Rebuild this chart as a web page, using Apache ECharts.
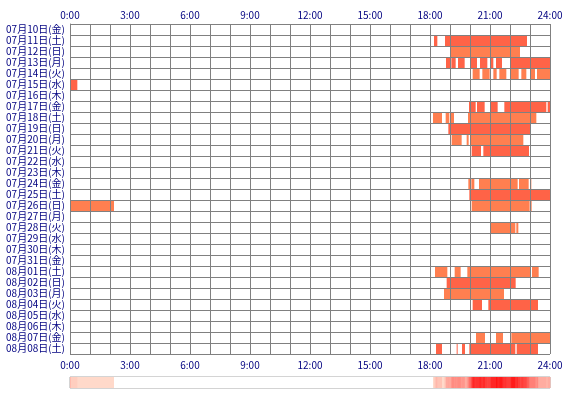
<!DOCTYPE html>
<html><head><meta charset="utf-8">
<script src="https://cdn.jsdelivr.net/npm/echarts@6/dist/echarts.min.js"></script>
<style>html,body{margin:0;padding:0;background:#fff}#c{width:570px;height:400px}</style>
</head><body><div id="c"></div>
<script>
const days = ['07月10日(金)','07月11日(土)','07月12日(日)','07月13日(月)','07月14日(火)','07月15日(水)','07月16日(木)','07月17日(金)','07月18日(土)','07月19日(日)','07月20日(月)','07月21日(火)','07月22日(水)','07月23日(木)','07月24日(金)','07月25日(土)','07月26日(日)','07月27日(月)','07月28日(火)','07月29日(水)','07月30日(木)','07月31日(金)','08月01日(土)','08月02日(日)','08月03日(月)','08月04日(火)','08月05日(水)','08月06日(木)','08月07日(金)','08月08日(土)'];
const hourLabels = ['0:00','3:00','6:00','9:00','12:00','15:00','18:00','21:00','24:00'];
// [day index, start, end]
const segments = [
  [1,'18:12','18:22'],[1,'18:45','22:51'],
  [2,'19:00','22:30'],
  [3,'18:48','19:00'],[3,'19:04','19:17'],[3,'19:24','19:44'],[3,'20:02','20:21'],[3,'20:30','20:52'],[3,'21:02','21:10'],[3,'21:18','21:36'],[3,'22:02','24:00'],
  [4,'20:08','20:29'],[4,'20:37','20:59'],[4,'21:10','21:20'],[4,'21:28','21:49'],[4,'22:02','22:26'],[4,'22:34','22:49'],[4,'23:00','23:15'],[4,'23:21','24:00'],
  [5,'0:00','0:22'],
  [7,'19:57','20:17'],[7,'20:21','20:44'],[7,'21:03','21:23'],[7,'21:43','23:49'],[7,'23:53','24:00'],
  [8,'0:00','0:02'],[8,'18:09','18:36'],[8,'18:47','18:58'],[8,'19:02','19:12'],[8,'19:54','23:19'],
  [9,'18:55','23:00'],
  [10,'19:05','19:35'],[10,'19:50','19:56'],[10,'20:02','22:40'],
  [11,'20:05','20:33'],[11,'20:40','22:57'],
  [14,'19:55','20:01'],[14,'20:04','20:13'],[14,'20:27','22:23'],[14,'22:27','22:56'],[14,'23:00','23:04'],
  [15,'19:58','24:00'],
  [16,'0:00','2:12'],[16,'20:05','22:59'],[16,'23:03','23:05'],
  [18,'21:00','22:16'],[18,'22:19','22:25'],
  [22,'18:15','18:52'],[22,'19:14','19:32'],[22,'19:52','23:00'],[22,'23:06','23:26'],
  [23,'18:50','22:17'],
  [24,'18:42','21:42'],
  [25,'20:08','20:36'],[25,'20:55','23:24'],
  [28,'20:18','20:45'],[28,'21:18','21:39'],[28,'22:04','24:00'],
  [29,'0:00','0:03'],[29,'18:18','18:36'],[29,'19:20','19:23'],[29,'19:36','19:45'],[29,'19:58','22:16'],[29,'22:20','23:24']
];
function toMin(s){const p=s.split(':');return (+p[0])*60+(+p[1]);}
const barData = segments.map(s=>[s[0], toMin(s[1])/60, toMin(s[2])/60]);

// per-minute activity counts derived from the segments
const counts = new Array(1440).fill(0);
const perDay = days.map(()=>new Array(1440).fill(0));
segments.forEach(s=>{for(let m=toMin(s[1]);m<toMin(s[2]);m++) perDay[s[0]][m]=1;});
perDay.forEach(d=>d.forEach((v,m)=>counts[m]+=v));
const bins=[];
for(let b=0;b<480;b++){let c=0;for(let k=0;k<3;k++)c+=counts[b*3+k];bins.push([b*3,(b+1)*3,c/3]);}
const maxC = Math.max(...counts);

const font = '"Noto Sans CJK JP", sans-serif';
const navy = '#000080';
const chart = echarts.init(document.getElementById('c'));
chart.setOption({
  animation:false,
  backgroundColor:'#fff',
  grid:[{left:70,width:480,top:24,height:330,show:false},
        {left:70,width:480,top:377,height:11,show:true,borderColor:'#a8a8a8',borderWidth:1,backgroundColor:'#fff'}],
  xAxis:[
    {type:'value',gridIndex:0,min:0,max:24,interval:1,position:'top',z:5,
     axisLine:{show:false},axisTick:{show:false},
     splitLine:{show:true,lineStyle:{color:'#808080',width:1}},
     axisLabel:{margin:4,color:navy,fontSize:10,fontFamily:font,
       formatter:v=>v%3===0?hourLabels[v/3]:''}},
    {type:'value',gridIndex:0,min:0,max:24,interval:1,position:'bottom',z:5,
     axisLine:{show:false},axisTick:{show:false},splitLine:{show:false},
     axisLabel:{margin:6,color:navy,fontSize:10,fontFamily:font,
       formatter:v=>v%3===0?hourLabels[v/3]:''}},
    {type:'value',gridIndex:1,min:0,max:1440,show:false}
  ],
  yAxis:[
    {type:'category',gridIndex:0,data:days,inverse:true,z:5,
     axisLine:{show:true,lineStyle:{color:'#808080'}},axisTick:{show:false},
     splitLine:{show:true,interval:0,lineStyle:{color:'#808080',width:1}},
     axisLabel:{interval:0,margin:5,color:navy,fontSize:10,fontFamily:font}},
    {type:'value',gridIndex:1,min:0,max:1,show:false}
  ],
  series:[
    {type:'custom',xAxisIndex:0,yAxisIndex:0,z:1,data:barData,
     encode:{x:[1,2],y:0},
     renderItem:(params,api)=>{
       const y=api.value(0);
       const s=api.coord([api.value(1),y]);
       const e=api.coord([api.value(2),y]);
       const h=api.size([0,1])[1];
       return {type:'rect',shape:{x:s[0],y:s[1]-h/2,width:e[0]-s[0],height:h},
         style:{fill: y%2===1?'#FF6347':'#FF7F50'}};
     }},
    {type:'custom',xAxisIndex:2,yAxisIndex:1,data:bins,encode:{x:[0,1]},
     renderItem:(params,api)=>{
       const c=api.value(2);
       const s=api.coord([api.value(0),0]);
       const e=api.coord([api.value(1),1]);
       let fill='#ffffff';
       if(c>0){const t=Math.min(1,c/maxC);
         const g=Math.round(228-212*t), b=Math.round(212-196*t);
         fill='rgb(255,'+g+','+b+')';}
       return {type:'rect',shape:{x:s[0],y:e[1],width:e[0]-s[0]+0.4,height:s[1]-e[1]},style:{fill:fill}};
     }}
  ]
});
</script></body></html>
